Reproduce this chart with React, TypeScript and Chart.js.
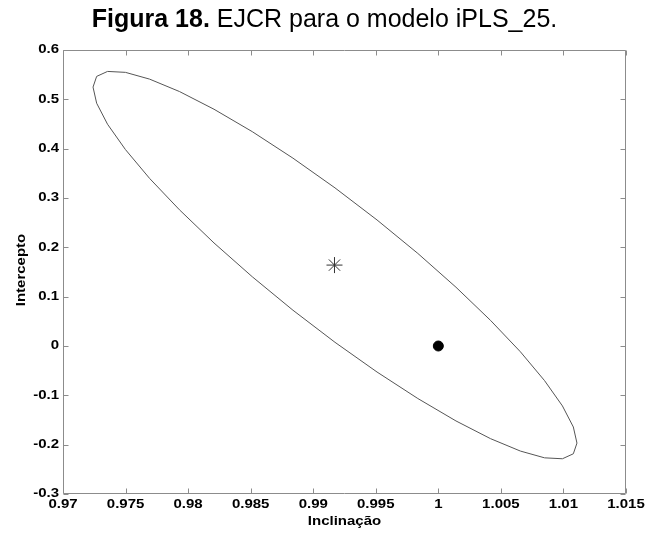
import React, { useEffect, useRef } from "react";
import { Chart, registerables } from "chart.js";

Chart.register(...registerables);

// Axis ticks
const xTicks = [0.97, 0.975, 0.98, 0.985, 0.99, 0.995, 1, 1.005, 1.01, 1.015];
const yTicks = [-0.3, -0.2, -0.1, 0, 0.1, 0.2, 0.3, 0.4, 0.5, 0.6];
const xTitle = "Inclinação";
const yTitle = "Intercepto";

// Joint confidence region boundary (slope, intercept)
const ellipseSlope = [
  0.9724, 0.97269, 0.97356, 0.97499, 0.97692, 0.97931, 0.98207, 0.98513, 0.98838,
  0.99174, 0.9951, 0.99836, 1.00141, 1.00417, 1.00656, 1.00849, 1.00992, 1.01079,
  1.01108, 1.01079, 1.00992, 1.00849, 1.00656, 1.00417, 1.00141, 0.99836, 0.9951,
  0.99174, 0.98838, 0.98513, 0.98207, 0.97931, 0.97692, 0.97499, 0.97356, 0.97269,
  0.9724,
];
const ellipseIntercept = [
  0.5248, 0.49215, 0.44952, 0.3982, 0.33977, 0.27604, 0.20887, 0.14033, 0.07252,
  0.0075, -0.05276, -0.10645, -0.15193, -0.1878, -0.21297, -0.2267, -0.22856, -0.21849,
  -0.1968, -0.16415, -0.12152, -0.0702, -0.01177, 0.05196, 0.11913, 0.18767, 0.25548,
  0.3205, 0.38076, 0.43445, 0.47993, 0.5158, 0.54097, 0.5547, 0.55656, 0.54649,
  0.5248,
];

// Estimated slope/intercept and the ideal point (1, 0)
const estimateSlope = [0.9917];
const estimateIntercept = [0.164];
const idealSlope = [1];
const idealIntercept = [0];

const FONT = "'Liberation Sans', Arial, Helvetica, sans-serif";
const FRAME = "#8c8c8c";
const LABEL_FONT = `bold 12px ${FONT}`;
const STRETCH = 1.25; // axis lettering is set wide

const fmt = (v: number) => String(Number(v.toFixed(3)));

function wideText(
  ctx: CanvasRenderingContext2D,
  text: string,
  x: number,
  y: number,
  align: CanvasTextAlign,
  rotate = false
) {
  ctx.save();
  ctx.translate(x, y);
  if (rotate) ctx.rotate(-Math.PI / 2);
  ctx.scale(STRETCH, 1);
  ctx.textAlign = align;
  ctx.textBaseline = "middle";
  ctx.fillText(text, 0, 0);
  ctx.restore();
}

// Box frame with inward ticks on all four sides, plus tick labels and axis titles
const framePlugin = {
  id: "frameTicks",
  afterDraw(chart: any) {
    const { ctx, chartArea: a, scales } = chart;
    const L = Math.round(a.left) + 0.5;
    const R = Math.round(a.right) - 0.5;
    const T = Math.round(a.top) + 0.5;
    const B = Math.round(a.bottom) - 0.5;
    const len = 5;
    ctx.save();
    ctx.strokeStyle = FRAME;
    ctx.lineWidth = 1;
    ctx.beginPath();
    ctx.rect(L, T, R - L, B - T);
    for (const v of xTicks) {
      const px = Math.round(scales.x.getPixelForValue(v)) + 0.5;
      ctx.moveTo(px, B);
      ctx.lineTo(px, B - len);
      ctx.moveTo(px, T);
      ctx.lineTo(px, T + len);
    }
    for (const v of yTicks) {
      const py = Math.round(scales.y.getPixelForValue(v)) + 0.5;
      ctx.moveTo(L, py);
      ctx.lineTo(L + len, py);
      ctx.moveTo(R, py);
      ctx.lineTo(R - len, py);
    }
    ctx.stroke();

    ctx.fillStyle = "#000";
    ctx.font = LABEL_FONT;
    for (const v of xTicks) {
      wideText(ctx, fmt(v), scales.x.getPixelForValue(v), a.bottom + 11, "center");
    }
    for (const v of yTicks) {
      wideText(ctx, fmt(v), a.left - 4, scales.y.getPixelForValue(v), "right");
    }
    wideText(ctx, xTitle, (a.left + a.right) / 2, a.bottom + 28, "center");
    wideText(ctx, yTitle, 22, (a.top + a.bottom) / 2 - 2, "center", true);
    ctx.restore();
  },
};

export default function App() {
  const ref = useRef<HTMLCanvasElement>(null);

  useEffect(() => {
    if (!ref.current) return;
    const chart = new Chart(ref.current, {
      type: "scatter",
      data: {
        datasets: [
          {
            data: ellipseSlope.map((x, i) => ({ x, y: ellipseIntercept[i] })),
            showLine: true,
            borderColor: "#555555",
            borderWidth: 1,
            pointRadius: 0,
            tension: 0,
            fill: false,
          },
          {
            data: estimateSlope.map((x, i) => ({ x, y: estimateIntercept[i] })),
            pointStyle: "star",
            pointRadius: 8,
            borderColor: "#333333",
            backgroundColor: "#333333",
            pointBorderWidth: 1,
          },
          {
            data: idealSlope.map((x, i) => ({ x, y: idealIntercept[i] })),
            pointStyle: "circle",
            pointRadius: 5,
            borderColor: "#000000",
            backgroundColor: "#000000",
            pointBorderWidth: 1,
          },
        ],
      },
      options: {
        animation: false,
        responsive: false,
        maintainAspectRatio: false,
        layout: { padding: { left: 0, right: 23, top: 50, bottom: 0 } },
        plugins: { legend: { display: false }, tooltip: { enabled: false } },
        scales: {
          x: {
            type: "linear",
            min: 0.97,
            max: 1.015,
            afterBuildTicks: (s: any) => {
              s.ticks = xTicks.map((value) => ({ value }));
            },
            afterFit: (s: any) => {
              s.height = 41;
            },
            grid: { display: false, drawTicks: false },
            border: { display: false },
            ticks: { display: false },
          },
          y: {
            type: "linear",
            min: -0.3,
            max: 0.6,
            afterBuildTicks: (s: any) => {
              s.ticks = yTicks.map((value) => ({ value }));
            },
            afterFit: (s: any) => {
              s.width = 63;
            },
            grid: { display: false, drawTicks: false },
            border: { display: false },
            ticks: { display: false },
          },
        },
      },
      plugins: [framePlugin],
    } as any);
    return () => chart.destroy();
  }, []);

  return (
    <div
      style={{
        position: "absolute",
        left: 0,
        top: 0,
        width: 649,
        height: 535,
        background: "#fff",
      }}
    >
      <div
        style={{
          position: "absolute",
          left: 0,
          top: 6,
          width: 649,
          textAlign: "center",
          fontFamily: FONT,
          fontSize: 25,
          lineHeight: "25px",
          color: "#000",
          whiteSpace: "nowrap",
        }}
      >
        <b>Figura 18.</b> EJCR para o modelo iPLS_25.
      </div>
      <canvas ref={ref} width={649} height={535} style={{ display: "block" }} />
    </div>
  );
}
